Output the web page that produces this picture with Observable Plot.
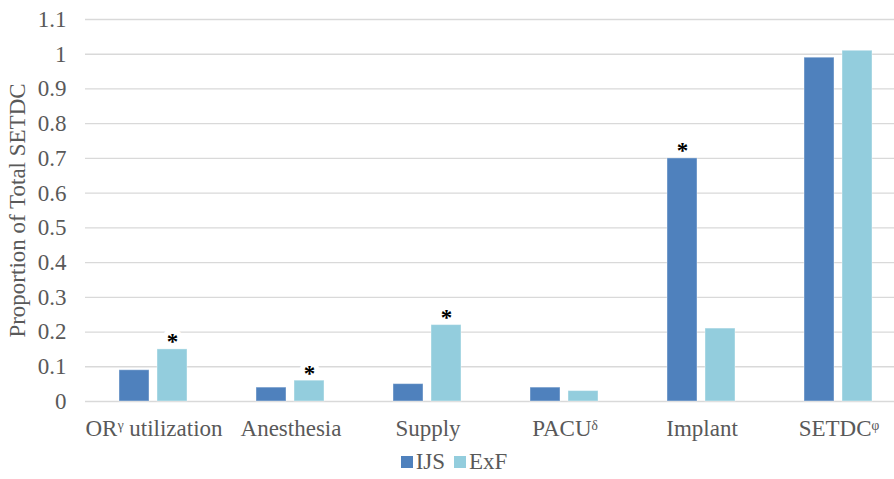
<!DOCTYPE html>
<html>
<head>
<meta charset="utf-8">
<script src="https://cdn.jsdelivr.net/npm/d3@7"></script>
<script src="https://cdn.jsdelivr.net/npm/@observablehq/plot@0.6"></script>
<style>
  body { margin: 0; background: #fff; overflow: hidden; }
  #chart { width: 894px; overflow: hidden; }
  #chart svg { max-width: none !important; display: block; }
  #chart svg, #chart svg text { font-family: "Liberation Serif", "Times New Roman", serif !important; }
  .legend { display: flex; justify-content: center; align-items: center; gap: 9px; height: 34px;
    font-family: "Liberation Serif", "Times New Roman", serif; font-size: 23px; color: #595959; margin-left: 14px; }
  .legend span.sw { display: inline-block; width: 12px; height: 12px; margin-right: 3px; vertical-align: 1px; }
</style>
</head>
<body>
<div id="chart"></div>
<script>
const categories = ["OR utilization", "Anesthesia", "Supply", "PACU", "Implant", "SETDC"];
const categoryLabels = ["ORᵞ utilization", "Anesthesia", "Supply", "PACUᵟ", "Implant", "SETDCᵠ"];
const series = ["IJS", "ExF"];
const ijsValues = [0.09, 0.04, 0.05, 0.04, 0.70, 0.99];
const exfValues = [0.15, 0.06, 0.22, 0.03, 0.21, 1.01];
const ijsSignificant = [false, false, false, false, true, false];
const exfSignificant = [true, true, true, false, false, false];
const colors = ["#4f81bd", "#93cddd"];
const yTicks = [0, 0.1, 0.2, 0.3, 0.4, 0.5, 0.6, 0.7, 0.8, 0.9, 1, 1.1];

const rows = [];
categories.forEach((c, i) => {
  rows.push({category: c, series: "IJS", value: ijsValues[i], sig: ijsSignificant[i]});
  rows.push({category: c, series: "ExF", value: exfValues[i], sig: exfSignificant[i]});
});
const labelOf = new Map(categories.map((c, i) => [c, categoryLabels[i]]));
const serif = "'Liberation Serif', 'Times New Roman', serif";

const plot = Plot.plot({
  width: 907,
  height: 445,
  marginLeft: 85,
  marginRight: 0,
  marginTop: 19,
  marginBottom: 44,
  style: {fontFamily: serif, fontSize: "23px", color: "#595959", background: "#fff", overflow: "visible", maxWidth: "none"},
  fx: {domain: categories, padding: 0, label: null},
  x: {domain: series, paddingInner: 0.2, paddingOuter: 0.86, axis: null},
  y: {domain: [0, 1.1], axis: null},
  color: {domain: series, range: colors},
  marks: [
    Plot.ruleY(yTicks, {stroke: "#d9d9d9", strokeWidth: 1.3}),
    Plot.axisY({ticks: yTicks, tickSize: 0, tickPadding: 19, tickFormat: d => String(d), fill: "#595959", fontSize: 23, fontFamily: serif,
      label: "Proportion of Total SETDC", labelAnchor: "center", labelArrow: "none", labelOffset: 77}),
    Plot.axisFx({anchor: "bottom", tickSize: 0, tickPadding: 18, label: null, tickFormat: d => labelOf.get(d), fill: "#595959", fontSize: 23, fontFamily: serif}),
    Plot.barY(rows, {fx: "category", x: "series", y: "value", fill: "series", stroke: "white", strokeOpacity: 0.4, strokeWidth: 1}),
    Plot.text(rows.filter(d => d.sig), {fx: "category", x: "series", y: "value", text: () => "*", dy: 0, lineAnchor: "bottom",
      fill: "#000", stroke: "white", strokeWidth: 10, fontSize: 23, fontWeight: "bold", fontFamily: serif})
  ]
});
document.getElementById("chart").appendChild(plot);

const legend = document.createElement("div");
legend.className = "legend";
series.forEach((s, i) => {
  const item = document.createElement("div");
  const sw = document.createElement("span");
  sw.className = "sw";
  sw.style.background = colors[i];
  item.appendChild(sw);
  item.appendChild(document.createTextNode(s));
  legend.appendChild(item);
});
document.getElementById("chart").appendChild(legend);
</script>
</body>
</html>
